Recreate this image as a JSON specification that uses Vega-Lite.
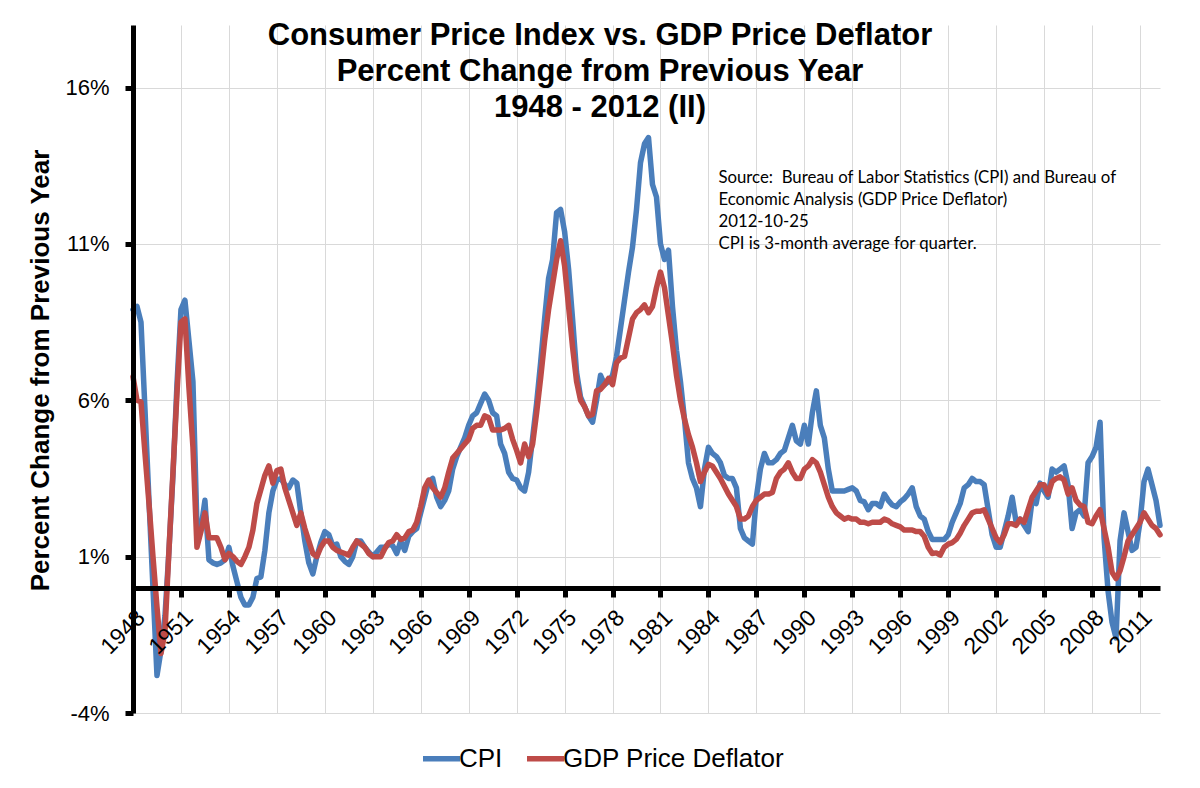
{
  "$schema": "https://vega.github.io/schema/vega-lite/v6.json",
  "width": 1027,
  "height": 688,
  "autosize": {"type": "none"},
  "padding": {"left": 133, "top": 25, "right": 40, "bottom": 75},
  "background": "white",
  "config": {"view": {"stroke": null}, "font": "Liberation Sans"},
  "title": {
    "text": ["Consumer Price Index vs. GDP Price Deflator", "Percent Change from Previous Year", "1948 - 2012 (II)"],
    "anchor": "middle", "frame": "group", "orient": "top", "offset": -20, "baseline": "alphabetic",
    "fontSize": 31, "fontWeight": "bold", "font": "Liberation Sans", "lineHeight": 36, "dx": -46.5, "dy": 103, "color": "black"
  },
  "data": {"values": [
    {"t":1948,"CPI":8.9,"GDP Price Deflator":6.75},{"t":1948.25,"CPI":9.0,"GDP Price Deflator":6.0},{"t":1948.5,"CPI":8.5,"GDP Price Deflator":5.95},{"t":1948.75,"CPI":5.7,"GDP Price Deflator":4.3},
    {"t":1949,"CPI":2.8,"GDP Price Deflator":2.7},{"t":1949.25,"CPI":0.0,"GDP Price Deflator":1.0},{"t":1949.5,"CPI":-2.8,"GDP Price Deflator":-0.6},{"t":1949.75,"CPI":-2.0,"GDP Price Deflator":-2.1},
    {"t":1950,"CPI":-0.9,"GDP Price Deflator":-1.4},{"t":1950.25,"CPI":1.2,"GDP Price Deflator":1.2},{"t":1950.5,"CPI":3.6,"GDP Price Deflator":3.7},{"t":1950.75,"CPI":6.5,"GDP Price Deflator":6.2},
    {"t":1951,"CPI":8.9,"GDP Price Deflator":8.5},{"t":1951.25,"CPI":9.2,"GDP Price Deflator":8.6},{"t":1951.5,"CPI":7.9,"GDP Price Deflator":6.4},{"t":1951.75,"CPI":6.6,"GDP Price Deflator":4.5},
    {"t":1952,"CPI":2.0,"GDP Price Deflator":1.3},{"t":1952.25,"CPI":1.9,"GDP Price Deflator":1.8},{"t":1952.5,"CPI":2.8,"GDP Price Deflator":2.4},{"t":1952.75,"CPI":0.9,"GDP Price Deflator":1.6},
    {"t":1953,"CPI":0.8,"GDP Price Deflator":1.6},{"t":1953.25,"CPI":0.75,"GDP Price Deflator":1.6},{"t":1953.5,"CPI":0.8,"GDP Price Deflator":1.3},{"t":1953.75,"CPI":0.9,"GDP Price Deflator":0.9},
    {"t":1954,"CPI":1.3,"GDP Price Deflator":1.1},{"t":1954.25,"CPI":0.7,"GDP Price Deflator":1.0},{"t":1954.5,"CPI":0.2,"GDP Price Deflator":0.85},{"t":1954.75,"CPI":-0.3,"GDP Price Deflator":0.75},
    {"t":1955,"CPI":-0.55,"GDP Price Deflator":1.0},{"t":1955.25,"CPI":-0.55,"GDP Price Deflator":1.3},{"t":1955.5,"CPI":-0.3,"GDP Price Deflator":1.85},{"t":1955.75,"CPI":0.3,"GDP Price Deflator":2.7},
    {"t":1956,"CPI":0.35,"GDP Price Deflator":3.15},{"t":1956.25,"CPI":1.2,"GDP Price Deflator":3.6},{"t":1956.5,"CPI":2.4,"GDP Price Deflator":3.9},{"t":1956.75,"CPI":3.1,"GDP Price Deflator":3.35},
    {"t":1957,"CPI":3.45,"GDP Price Deflator":3.75},{"t":1957.25,"CPI":3.5,"GDP Price Deflator":3.8},{"t":1957.5,"CPI":3.3,"GDP Price Deflator":3.2},{"t":1957.75,"CPI":3.2,"GDP Price Deflator":2.8},
    {"t":1958,"CPI":3.45,"GDP Price Deflator":2.4},{"t":1958.25,"CPI":3.35,"GDP Price Deflator":2.0},{"t":1958.5,"CPI":2.4,"GDP Price Deflator":2.4},{"t":1958.75,"CPI":1.5,"GDP Price Deflator":1.9},
    {"t":1959,"CPI":0.8,"GDP Price Deflator":1.5},{"t":1959.25,"CPI":0.45,"GDP Price Deflator":1.1},{"t":1959.5,"CPI":1.0,"GDP Price Deflator":1.0},{"t":1959.75,"CPI":1.45,"GDP Price Deflator":1.3},
    {"t":1960,"CPI":1.8,"GDP Price Deflator":1.5},{"t":1960.25,"CPI":1.7,"GDP Price Deflator":1.5},{"t":1960.5,"CPI":1.35,"GDP Price Deflator":1.3},{"t":1960.75,"CPI":1.4,"GDP Price Deflator":1.2},
    {"t":1961,"CPI":1.0,"GDP Price Deflator":1.15},{"t":1961.25,"CPI":0.85,"GDP Price Deflator":1.1},{"t":1961.5,"CPI":0.75,"GDP Price Deflator":1.05},{"t":1961.75,"CPI":1.0,"GDP Price Deflator":1.3},
    {"t":1962,"CPI":1.5,"GDP Price Deflator":1.5},{"t":1962.25,"CPI":1.5,"GDP Price Deflator":1.4},{"t":1962.5,"CPI":1.3,"GDP Price Deflator":1.3},{"t":1962.75,"CPI":1.15,"GDP Price Deflator":1.1},
    {"t":1963,"CPI":1.0,"GDP Price Deflator":1.0},{"t":1963.25,"CPI":1.15,"GDP Price Deflator":1.0},{"t":1963.5,"CPI":1.3,"GDP Price Deflator":1.0},{"t":1963.75,"CPI":1.3,"GDP Price Deflator":1.25},
    {"t":1964,"CPI":1.4,"GDP Price Deflator":1.45},{"t":1964.25,"CPI":1.35,"GDP Price Deflator":1.5},{"t":1964.5,"CPI":1.1,"GDP Price Deflator":1.7},{"t":1964.75,"CPI":1.5,"GDP Price Deflator":1.55},
    {"t":1965,"CPI":1.2,"GDP Price Deflator":1.6},{"t":1965.25,"CPI":1.65,"GDP Price Deflator":1.8},{"t":1965.5,"CPI":1.8,"GDP Price Deflator":1.85},{"t":1965.75,"CPI":1.9,"GDP Price Deflator":2.1},
    {"t":1966,"CPI":2.4,"GDP Price Deflator":2.6},{"t":1966.25,"CPI":2.9,"GDP Price Deflator":3.2},{"t":1966.5,"CPI":3.4,"GDP Price Deflator":3.45},{"t":1966.75,"CPI":3.5,"GDP Price Deflator":3.2},
    {"t":1967,"CPI":2.9,"GDP Price Deflator":3.05},{"t":1967.25,"CPI":2.6,"GDP Price Deflator":2.9},{"t":1967.5,"CPI":2.8,"GDP Price Deflator":3.2},{"t":1967.75,"CPI":3.1,"GDP Price Deflator":3.7},
    {"t":1968,"CPI":3.8,"GDP Price Deflator":4.15},{"t":1968.25,"CPI":4.2,"GDP Price Deflator":4.3},{"t":1968.5,"CPI":4.5,"GDP Price Deflator":4.45},{"t":1968.75,"CPI":4.8,"GDP Price Deflator":4.6},
    {"t":1969,"CPI":5.2,"GDP Price Deflator":4.75},{"t":1969.25,"CPI":5.5,"GDP Price Deflator":5.1},{"t":1969.5,"CPI":5.6,"GDP Price Deflator":5.2},{"t":1969.75,"CPI":5.9,"GDP Price Deflator":5.2},
    {"t":1970,"CPI":6.2,"GDP Price Deflator":5.5},{"t":1970.25,"CPI":6.0,"GDP Price Deflator":5.45},{"t":1970.5,"CPI":5.6,"GDP Price Deflator":5.05},{"t":1970.75,"CPI":5.5,"GDP Price Deflator":5.05},
    {"t":1971,"CPI":4.6,"GDP Price Deflator":5.05},{"t":1971.25,"CPI":4.3,"GDP Price Deflator":5.1},{"t":1971.5,"CPI":3.7,"GDP Price Deflator":5.2},{"t":1971.75,"CPI":3.5,"GDP Price Deflator":4.75},
    {"t":1972,"CPI":3.45,"GDP Price Deflator":4.4},{"t":1972.25,"CPI":3.2,"GDP Price Deflator":4.0},{"t":1972.5,"CPI":3.1,"GDP Price Deflator":4.6},{"t":1972.75,"CPI":3.7,"GDP Price Deflator":4.2},
    {"t":1973,"CPI":4.8,"GDP Price Deflator":4.6},{"t":1973.25,"CPI":5.9,"GDP Price Deflator":5.6},{"t":1973.5,"CPI":7.2,"GDP Price Deflator":6.7},{"t":1973.75,"CPI":8.6,"GDP Price Deflator":7.9},
    {"t":1974,"CPI":9.9,"GDP Price Deflator":8.9},{"t":1974.25,"CPI":10.5,"GDP Price Deflator":9.7},{"t":1974.5,"CPI":12.0,"GDP Price Deflator":10.5},{"t":1974.75,"CPI":12.1,"GDP Price Deflator":11.1},
    {"t":1975,"CPI":11.4,"GDP Price Deflator":10.3},{"t":1975.25,"CPI":10.2,"GDP Price Deflator":9.0},{"t":1975.5,"CPI":8.6,"GDP Price Deflator":7.7},{"t":1975.75,"CPI":6.9,"GDP Price Deflator":6.6},
    {"t":1976,"CPI":6.1,"GDP Price Deflator":6.0},{"t":1976.25,"CPI":5.8,"GDP Price Deflator":5.8},{"t":1976.5,"CPI":5.5,"GDP Price Deflator":5.5},{"t":1976.75,"CPI":5.3,"GDP Price Deflator":5.55},
    {"t":1977,"CPI":6.0,"GDP Price Deflator":6.3},{"t":1977.25,"CPI":6.8,"GDP Price Deflator":6.35},{"t":1977.5,"CPI":6.5,"GDP Price Deflator":6.5},{"t":1977.75,"CPI":6.6,"GDP Price Deflator":6.7},
    {"t":1978,"CPI":6.8,"GDP Price Deflator":6.5},{"t":1978.25,"CPI":7.4,"GDP Price Deflator":7.2},{"t":1978.5,"CPI":8.3,"GDP Price Deflator":7.35},{"t":1978.75,"CPI":9.2,"GDP Price Deflator":7.4},
    {"t":1979,"CPI":10.1,"GDP Price Deflator":8.0},{"t":1979.25,"CPI":10.9,"GDP Price Deflator":8.6},{"t":1979.5,"CPI":12.1,"GDP Price Deflator":8.8},{"t":1979.75,"CPI":13.6,"GDP Price Deflator":8.9},
    {"t":1980,"CPI":14.2,"GDP Price Deflator":9.05},{"t":1980.25,"CPI":14.4,"GDP Price Deflator":8.8},{"t":1980.5,"CPI":12.9,"GDP Price Deflator":9.0},{"t":1980.75,"CPI":12.5,"GDP Price Deflator":9.6},
    {"t":1981,"CPI":11.0,"GDP Price Deflator":10.1},{"t":1981.25,"CPI":10.5,"GDP Price Deflator":9.6},{"t":1981.5,"CPI":10.8,"GDP Price Deflator":8.7},{"t":1981.75,"CPI":9.0,"GDP Price Deflator":7.8},
    {"t":1982,"CPI":7.6,"GDP Price Deflator":6.8},{"t":1982.25,"CPI":6.6,"GDP Price Deflator":6.0},{"t":1982.5,"CPI":5.4,"GDP Price Deflator":5.4},{"t":1982.75,"CPI":4.0,"GDP Price Deflator":4.9},
    {"t":1983,"CPI":3.5,"GDP Price Deflator":4.5},{"t":1983.25,"CPI":3.2,"GDP Price Deflator":4.0},{"t":1983.5,"CPI":2.6,"GDP Price Deflator":3.4},{"t":1983.75,"CPI":3.8,"GDP Price Deflator":3.7},
    {"t":1984,"CPI":4.5,"GDP Price Deflator":3.95},{"t":1984.25,"CPI":4.3,"GDP Price Deflator":3.9},{"t":1984.5,"CPI":4.2,"GDP Price Deflator":3.7},{"t":1984.75,"CPI":4.0,"GDP Price Deflator":3.5},
    {"t":1985,"CPI":3.6,"GDP Price Deflator":3.25},{"t":1985.25,"CPI":3.5,"GDP Price Deflator":3.0},{"t":1985.5,"CPI":3.5,"GDP Price Deflator":2.8},{"t":1985.75,"CPI":3.2,"GDP Price Deflator":2.6},
    {"t":1986,"CPI":1.9,"GDP Price Deflator":2.2},{"t":1986.25,"CPI":1.6,"GDP Price Deflator":2.2},{"t":1986.5,"CPI":1.5,"GDP Price Deflator":2.3},{"t":1986.75,"CPI":1.4,"GDP Price Deflator":2.6},
    {"t":1987,"CPI":2.9,"GDP Price Deflator":2.8},{"t":1987.25,"CPI":3.8,"GDP Price Deflator":2.9},{"t":1987.5,"CPI":4.3,"GDP Price Deflator":3.0},{"t":1987.75,"CPI":4.0,"GDP Price Deflator":3.0},
    {"t":1988,"CPI":4.0,"GDP Price Deflator":3.05},{"t":1988.25,"CPI":4.1,"GDP Price Deflator":3.5},{"t":1988.5,"CPI":4.3,"GDP Price Deflator":3.7},{"t":1988.75,"CPI":4.4,"GDP Price Deflator":3.8},
    {"t":1989,"CPI":4.8,"GDP Price Deflator":4.0},{"t":1989.25,"CPI":5.2,"GDP Price Deflator":3.7},{"t":1989.5,"CPI":4.7,"GDP Price Deflator":3.5},{"t":1989.75,"CPI":4.6,"GDP Price Deflator":3.5},
    {"t":1990,"CPI":5.2,"GDP Price Deflator":3.8},{"t":1990.25,"CPI":4.6,"GDP Price Deflator":3.9},{"t":1990.5,"CPI":5.6,"GDP Price Deflator":4.1},{"t":1990.75,"CPI":6.3,"GDP Price Deflator":4.0},
    {"t":1991,"CPI":5.2,"GDP Price Deflator":3.7},{"t":1991.25,"CPI":4.8,"GDP Price Deflator":3.3},{"t":1991.5,"CPI":3.8,"GDP Price Deflator":2.9},{"t":1991.75,"CPI":3.1,"GDP Price Deflator":2.6},
    {"t":1992,"CPI":3.1,"GDP Price Deflator":2.4},{"t":1992.25,"CPI":3.1,"GDP Price Deflator":2.3},{"t":1992.5,"CPI":3.1,"GDP Price Deflator":2.2},{"t":1992.75,"CPI":3.15,"GDP Price Deflator":2.25},
    {"t":1993,"CPI":3.2,"GDP Price Deflator":2.2},{"t":1993.25,"CPI":3.1,"GDP Price Deflator":2.2},{"t":1993.5,"CPI":2.8,"GDP Price Deflator":2.1},{"t":1993.75,"CPI":2.75,"GDP Price Deflator":2.1},
    {"t":1994,"CPI":2.5,"GDP Price Deflator":2.05},{"t":1994.25,"CPI":2.7,"GDP Price Deflator":2.1},{"t":1994.5,"CPI":2.7,"GDP Price Deflator":2.1},{"t":1994.75,"CPI":2.6,"GDP Price Deflator":2.1},
    {"t":1995,"CPI":3.0,"GDP Price Deflator":2.2},{"t":1995.25,"CPI":2.8,"GDP Price Deflator":2.15},{"t":1995.5,"CPI":2.65,"GDP Price Deflator":2.05},{"t":1995.75,"CPI":2.6,"GDP Price Deflator":2.0},
    {"t":1996,"CPI":2.75,"GDP Price Deflator":1.95},{"t":1996.25,"CPI":2.85,"GDP Price Deflator":1.85},{"t":1996.5,"CPI":3.0,"GDP Price Deflator":1.85},{"t":1996.75,"CPI":3.2,"GDP Price Deflator":1.85},
    {"t":1997,"CPI":2.6,"GDP Price Deflator":1.8},{"t":1997.25,"CPI":2.3,"GDP Price Deflator":1.8},{"t":1997.5,"CPI":2.2,"GDP Price Deflator":1.65},{"t":1997.75,"CPI":1.8,"GDP Price Deflator":1.3},
    {"t":1998,"CPI":1.55,"GDP Price Deflator":1.1},{"t":1998.25,"CPI":1.55,"GDP Price Deflator":1.12},{"t":1998.5,"CPI":1.55,"GDP Price Deflator":1.05},{"t":1998.75,"CPI":1.55,"GDP Price Deflator":1.3},
    {"t":1999,"CPI":1.7,"GDP Price Deflator":1.4},{"t":1999.25,"CPI":2.1,"GDP Price Deflator":1.45},{"t":1999.5,"CPI":2.4,"GDP Price Deflator":1.55},{"t":1999.75,"CPI":2.7,"GDP Price Deflator":1.75},
    {"t":2000,"CPI":3.2,"GDP Price Deflator":2.0},{"t":2000.25,"CPI":3.3,"GDP Price Deflator":2.2},{"t":2000.5,"CPI":3.5,"GDP Price Deflator":2.4},{"t":2000.75,"CPI":3.4,"GDP Price Deflator":2.45},
    {"t":2001,"CPI":3.4,"GDP Price Deflator":2.45},{"t":2001.25,"CPI":3.3,"GDP Price Deflator":2.5},{"t":2001.5,"CPI":2.5,"GDP Price Deflator":2.2},{"t":2001.75,"CPI":1.7,"GDP Price Deflator":1.9},
    {"t":2002,"CPI":1.3,"GDP Price Deflator":1.6},{"t":2002.25,"CPI":1.3,"GDP Price Deflator":1.45},{"t":2002.5,"CPI":1.8,"GDP Price Deflator":1.7},{"t":2002.75,"CPI":2.3,"GDP Price Deflator":2.05},
    {"t":2003,"CPI":2.9,"GDP Price Deflator":2.05},{"t":2003.25,"CPI":2.1,"GDP Price Deflator":2.0},{"t":2003.5,"CPI":2.2,"GDP Price Deflator":2.2},{"t":2003.75,"CPI":2.0,"GDP Price Deflator":2.1},
    {"t":2004,"CPI":1.8,"GDP Price Deflator":2.5},{"t":2004.25,"CPI":2.8,"GDP Price Deflator":2.9},{"t":2004.5,"CPI":2.7,"GDP Price Deflator":3.1},{"t":2004.75,"CPI":3.35,"GDP Price Deflator":3.3},
    {"t":2005,"CPI":3.1,"GDP Price Deflator":3.3},{"t":2005.25,"CPI":2.9,"GDP Price Deflator":3.0},{"t":2005.5,"CPI":3.8,"GDP Price Deflator":3.4},{"t":2005.75,"CPI":3.7,"GDP Price Deflator":3.5},
    {"t":2006,"CPI":3.8,"GDP Price Deflator":3.55},{"t":2006.25,"CPI":3.9,"GDP Price Deflator":3.45},{"t":2006.5,"CPI":3.3,"GDP Price Deflator":3.0},{"t":2006.75,"CPI":1.9,"GDP Price Deflator":3.2},
    {"t":2007,"CPI":2.4,"GDP Price Deflator":2.8},{"t":2007.25,"CPI":2.5,"GDP Price Deflator":2.65},{"t":2007.5,"CPI":2.3,"GDP Price Deflator":2.6},{"t":2007.75,"CPI":4.0,"GDP Price Deflator":2.1},
    {"t":2008,"CPI":4.2,"GDP Price Deflator":2.05},{"t":2008.25,"CPI":4.5,"GDP Price Deflator":2.3},{"t":2008.5,"CPI":5.3,"GDP Price Deflator":2.5},{"t":2008.75,"CPI":1.6,"GDP Price Deflator":1.9},
    {"t":2009,"CPI":-0.1,"GDP Price Deflator":1.3},{"t":2009.25,"CPI":-1.1,"GDP Price Deflator":0.5},{"t":2009.5,"CPI":-1.6,"GDP Price Deflator":0.3},{"t":2009.75,"CPI":1.5,"GDP Price Deflator":0.55},
    {"t":2010,"CPI":2.4,"GDP Price Deflator":1.0},{"t":2010.25,"CPI":1.8,"GDP Price Deflator":1.5},{"t":2010.5,"CPI":1.2,"GDP Price Deflator":1.7},{"t":2010.75,"CPI":1.3,"GDP Price Deflator":1.9},
    {"t":2011,"CPI":2.1,"GDP Price Deflator":2.1},{"t":2011.25,"CPI":3.4,"GDP Price Deflator":2.4},{"t":2011.5,"CPI":3.8,"GDP Price Deflator":2.2},{"t":2011.75,"CPI":3.3,"GDP Price Deflator":2.0},
    {"t":2012,"CPI":2.8,"GDP Price Deflator":1.9},{"t":2012.25,"CPI":2.0,"GDP Price Deflator":1.7}
  ]},
  "resolve": {"axis": {"x": "independent", "y": "independent"}},
  "layer": [
    {
      "transform": [{"fold": ["CPI", "GDP Price Deflator"], "as": ["series", "value"]}],
      "mark": {"type": "line", "strokeWidth": 5.5, "strokeJoin": "round", "strokeCap": "round"},
      "encoding": {
        "x": {"field": "t", "type": "quantitative",
          "scale": {"domain": [1948, 2012.25], "nice": false, "zero": false},
          "axis": {"orient": "bottom", "values": [1948,1951,1954,1957,1960,1963,1966,1969,1972,1975,1978,1981,1984,1987,1990,1993,1996,1999,2002,2005,2008,2011],
            "grid": true, "gridColor": "#d9d9d9", "gridWidth": 1, "domain": false, "ticks": false, "labels": false, "title": null, "zindex": 0}},
        "y": {"field": "value", "type": "quantitative",
          "scale": {"domain": [-4, 18], "nice": false, "zero": false},
          "axis": {"orient": "left", "values": [-4, 1, 6, 11, 16], "grid": true, "gridColor": "#d9d9d9", "gridWidth": 1,
            "domain": false, "ticks": false, "labels": false, "title": null, "zindex": 0}},
        "color": {"field": "series", "type": "nominal",
          "scale": {"domain": ["CPI", "GDP Price Deflator"], "range": ["#4A7EBB", "#BE4B48"]},
          "legend": {"orient": "none", "legendX": 287, "legendY": 712, "direction": "horizontal", "title": null,
            "symbolType": "stroke", "symbolStrokeWidth": 5.5, "symbolSize": 1369, "labelFontSize": 26,
            "labelFont": "Liberation Sans", "labelColor": "black", "columnPadding": 13, "labelOffset": -4, "labelLimit": 400}}
      }
    },
    {
      "data": {"values": [{}]},
      "mark": {"type": "text", "align": "left", "baseline": "alphabetic", "font": "Lato", "fontSize": 16.8, "lineHeight": 22, "color": "black",
        "text": ["Source: \u00a0Bureau of Labor Statistics (CPI) and Bureau of", "Economic Analysis (GDP Price Deflator)", "2012-10-25", "CPI is 3-month average for quarter."]},
      "encoding": {
        "x": {"datum": 1984.625, "type": "quantitative",
          "axis": {"orient": "bottom", "values": [1948,1951,1954,1957,1960,1963,1966,1969,1972,1975,1978,1981,1984,1987,1990,1993,1996,1999,2002,2005,2008,2011],
            "format": "d", "grid": false, "offset": -125, "domain": true, "domainColor": "black", "domainWidth": 5,
            "ticks": true, "tickColor": "black", "tickWidth": 5, "tickSize": 9,
            "labelAngle": -45, "labelAlign": "right", "labelBaseline": "top", "labelPadding": 9,
            "labelFontSize": 23, "labelFont": "Liberation Sans", "labelColor": "black", "labelOverlap": false, "labelFlush": false,
            "title": null, "zindex": 1}},
        "y": {"datum": 12.95, "type": "quantitative",
          "axis": {"orient": "left", "values": [-4, 1, 6, 11, 16], "labelExpr": "datum.value + '%'", "grid": false,
            "domain": true, "domainColor": "black", "domainWidth": 5,
            "ticks": true, "tickColor": "black", "tickWidth": 5, "tickSize": 8,
            "labelFontSize": 22, "labelFont": "Liberation Sans", "labelColor": "black", "labelPadding": 16,
            "title": "Percent Change from Previous Year", "titleFontSize": 26, "titleFontWeight": "bold", "titleFont": "Liberation Sans",
            "titleColor": "black", "titleX": -85, "titleY": 345, "titleAngle": -90, "titleAlign": "center", "titleBaseline": "alphabetic",
            "zindex": 1}}
      }
    }
  ]
}
